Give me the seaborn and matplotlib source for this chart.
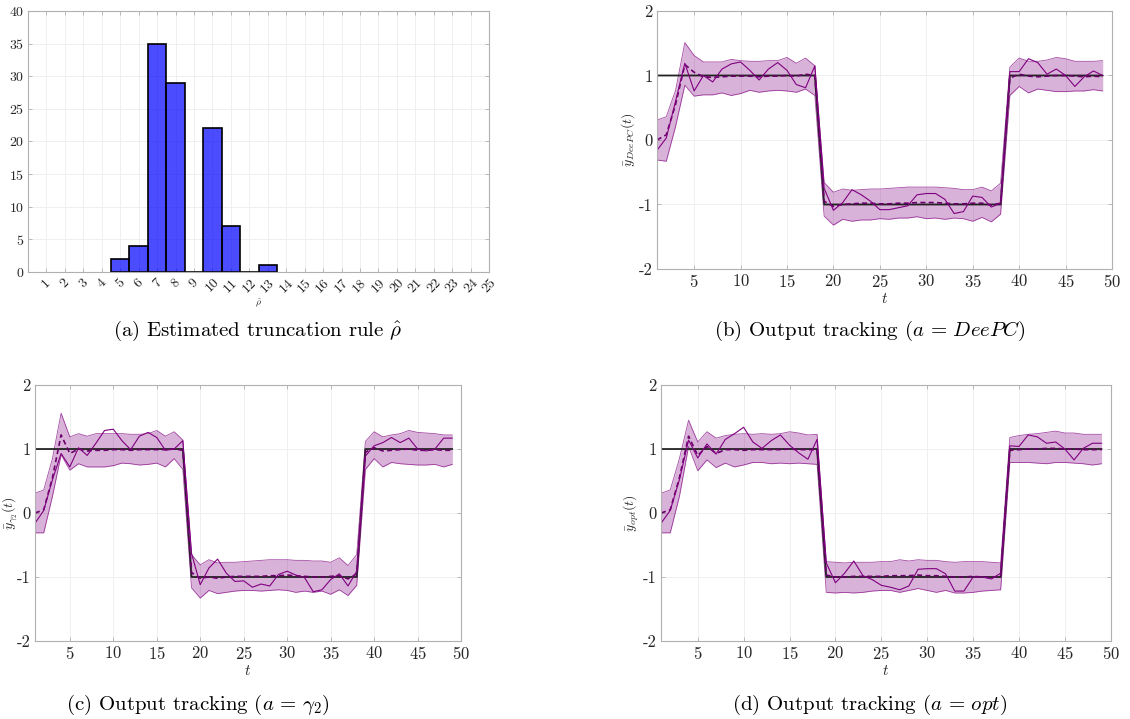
import numpy as np
import pandas as pd
import matplotlib
matplotlib.use("Agg")
import matplotlib.pyplot as plt
import seaborn as sns

# ---- data ----
rho_vals = [5, 6, 7, 8, 10, 11, 13]
rho_counts = [2, 4, 35, 29, 22, 7, 1]

t = list(range(1, 50))
y_ref = [1] * 18 + [-1] * 20 + [1] * 11

# (b) DeePC
deepc_run = [-0.16, 0.03, 0.6, 1.19, 0.76, 1.0, 0.9, 1.1, 1.18, 1.21, 1.08, 0.93, 1.1, 1.2, 1.08, 0.86, 0.81, 1.15,
             -0.75, -1.09, -0.97, -0.77, -0.85, -0.95, -1.08, -1.08, -1.05, -1.02, -0.85, -0.83, -0.83, -0.92, -1.14, -1.11, -0.87, -0.89, -1.04, -0.98,
             1.06, 1.06, 1.26, 1.2, 1.02, 1.1, 1.0, 0.83, 0.98, 1.07, 1.0]
deepc_mean = [0.0, 0.08, 0.55, 1.17, 1.05, 0.98, 0.97, 0.98, 0.99, 0.99, 0.99, 0.98, 0.99, 0.99, 1.0, 0.99, 1.02, 1.0,
              -0.95, -1.03, -1.0, -0.99, -0.98, -0.98, -0.99, -0.99, -0.98, -0.98, -0.97, -0.97, -0.97, -0.98, -0.99, -0.99, -0.98, -0.98, -1.01, -0.98,
              0.96, 1.02, 0.99, 0.98, 0.99, 1.0, 1.0, 0.99, 0.98, 0.99, 0.98]
deepc_up = [0.31, 0.36, 0.77, 1.51, 1.31, 1.21, 1.21, 1.21, 1.25, 1.23, 1.22, 1.22, 1.23, 1.23, 1.28, 1.19, 1.27, 1.15,
            -0.66, -0.81, -0.76, -0.78, -0.77, -0.76, -0.76, -0.75, -0.74, -0.73, -0.73, -0.73, -0.73, -0.74, -0.75, -0.77, -0.77, -0.73, -0.79, -0.67,
            1.13, 1.27, 1.22, 1.22, 1.24, 1.28, 1.26, 1.22, 1.22, 1.22, 1.23]
deepc_lo = [-0.31, -0.33, 0.21, 0.85, 0.68, 0.70, 0.70, 0.73, 0.69, 0.72, 0.77, 0.74, 0.76, 0.77, 0.76, 0.74, 0.79, 0.69,
            -1.18, -1.32, -1.23, -1.26, -1.24, -1.24, -1.22, -1.23, -1.21, -1.21, -1.19, -1.22, -1.21, -1.23, -1.21, -1.22, -1.26, -1.20, -1.27, -1.15,
            0.69, 0.83, 0.73, 0.79, 0.77, 0.75, 0.75, 0.76, 0.76, 0.78, 0.76]

# (c) gamma_2
g2_run = [-0.16, 0.04, 0.52, 0.93, 0.72, 1.02, 0.9, 1.09, 1.29, 1.31, 1.13, 0.99, 1.2, 1.26, 1.18, 0.98, 1.0, 1.13,
          -0.63, -1.12, -0.86, -0.72, -0.94, -1.07, -1.06, -1.16, -1.11, -1.14, -0.96, -0.91, -0.97, -1.01, -1.23, -1.2, -1.04, -0.95, -1.14, -0.91,
          0.89, 1.05, 1.1, 1.18, 1.1, 1.17, 1.0, 0.97, 1.0, 1.17, 1.17]
g2_mean = [0.0, 0.05, 0.55, 1.22, 0.93, 1.0, 0.97, 0.98, 0.98, 0.99, 0.99, 0.98, 0.99, 0.99, 0.99, 0.99, 1.0, 0.98,
           -0.93, -1.02, -1.0, -1.02, -1.0, -0.99, -0.99, -0.99, -0.99, -0.98, -0.98, -0.97, -0.98, -0.99, -1.0, -1.0, -0.99, -0.98, -1.03, -0.95,
           0.95, 1.02, 0.97, 0.98, 0.99, 1.0, 0.98, 0.98, 0.99, 0.98, 0.98]
g2_up = [0.31, 0.36, 0.85, 1.56, 1.19, 1.24, 1.2, 1.24, 1.24, 1.24, 1.24, 1.23, 1.23, 1.24, 1.29, 1.2, 1.27, 1.14,
         -0.65, -0.81, -0.73, -0.78, -0.77, -0.77, -0.76, -0.75, -0.74, -0.73, -0.73, -0.73, -0.74, -0.74, -0.75, -0.75, -0.77, -0.70, -0.82, -0.65,
         1.12, 1.27, 1.19, 1.22, 1.24, 1.29, 1.26, 1.25, 1.24, 1.22, 1.22]
g2_lo = [-0.31, -0.31, 0.26, 0.91, 0.67, 0.77, 0.72, 0.72, 0.72, 0.74, 0.78, 0.77, 0.75, 0.76, 0.78, 0.72, 0.85, 0.68,
         -1.17, -1.33, -1.21, -1.26, -1.24, -1.22, -1.21, -1.21, -1.22, -1.21, -1.2, -1.21, -1.24, -1.22, -1.24, -1.22, -1.27, -1.2, -1.29, -1.13,
         0.68, 0.85, 0.72, 0.79, 0.77, 0.76, 0.75, 0.75, 0.76, 0.72, 0.76]

# (d) opt
opt_run = [-0.16, 0.04, 0.52, 1.14, 0.86, 1.08, 0.92, 1.15, 1.24, 1.34, 1.11, 1.01, 1.13, 1.22, 1.06, 0.94, 0.84, 1.15,
           -0.78, -1.09, -0.94, -0.75, -0.98, -1.04, -1.13, -1.16, -1.2, -1.14, -0.88, -0.87, -0.87, -0.95, -1.22, -1.22, -1.0, -1.0, -1.03, -0.94,
           1.05, 1.04, 1.22, 1.19, 1.09, 1.11, 1.0, 0.83, 1.01, 1.09, 1.09]
opt_mean = [0.0, 0.05, 0.55, 1.2, 0.9, 1.04, 0.93, 0.99, 0.99, 0.98, 0.99, 0.99, 0.99, 0.99, 1.0, 0.99, 0.99, 0.99,
            -0.97, -1.0, -1.0, -0.99, -0.99, -0.99, -0.99, -0.98, -0.98, -0.98, -0.97, -0.98, -0.98, -0.99, -1.0, -1.0, -0.99, -1.0, -1.01, -0.98,
            0.98, 0.99, 1.0, 1.0, 1.01, 1.01, 1.0, 1.0, 0.99, 0.99, 0.99]
opt_up = [0.31, 0.36, 0.85, 1.45, 1.11, 1.27, 1.17, 1.21, 1.23, 1.24, 1.23, 1.24, 1.23, 1.24, 1.27, 1.25, 1.22, 1.23,
          -0.76, -0.77, -0.78, -0.77, -0.77, -0.77, -0.76, -0.76, -0.73, -0.75, -0.73, -0.74, -0.74, -0.76, -0.77, -0.76, -0.76, -0.76, -0.77, -0.78,
          1.18, 1.21, 1.23, 1.24, 1.26, 1.28, 1.25, 1.25, 1.23, 1.23, 1.23]
opt_lo = [-0.31, -0.31, 0.26, 1.04, 0.66, 0.83, 0.71, 0.78, 0.72, 0.75, 0.79, 0.79, 0.77, 0.78, 0.77, 0.78, 0.77, 0.76,
          -1.24, -1.25, -1.24, -1.25, -1.24, -1.22, -1.21, -1.21, -1.24, -1.21, -1.18, -1.21, -1.24, -1.21, -1.25, -1.25, -1.24, -1.22, -1.21, -1.2,
          0.79, 0.79, 0.79, 0.78, 0.77, 0.79, 0.79, 0.78, 0.77, 0.75, 0.77]

# ---- style ----
sns.set_theme(style="whitegrid")
plt.rcParams["font.family"] = ["cmr10", "DejaVu Serif"]
plt.rcParams["mathtext.fontset"] = "cm"
plt.rcParams["axes.unicode_minus"] = False
plt.rcParams["axes.formatter.use_mathtext"] = True

purple = "#800080"
spine_col = "#b0b0b0"
txt_col = "#262626"


def style_axes(ax, fs):
    for s in ax.spines.values():
        s.set_color(spine_col)
        s.set_linewidth(0.8)
    ax.grid(True, color="#efefef", linewidth=0.7)
    ax.tick_params(direction="in", length=3, width=0.6, color=spine_col,
                   labelsize=fs, labelcolor=txt_col, bottom=True, left=True, top=True, right=True,
                   labeltop=False, labelright=False, pad=3)
    ax.set_facecolor("white")


def tracking(ax, run, mean, up, lo, ylab, lab_x):
    ax.fill_between(t, lo, up, color=purple, alpha=0.3, linewidth=0)
    sns.lineplot(x=t, y=up, ax=ax, color=purple, lw=0.6, alpha=0.7)
    sns.lineplot(x=t, y=lo, ax=ax, color=purple, lw=0.6, alpha=0.7)
    sns.lineplot(x=t, y=y_ref, ax=ax, color="#222222", lw=1.3)
    sns.lineplot(x=t, y=mean, ax=ax, color="#6a006a", lw=1.2, linestyle=(0, (3, 2)))
    sns.lineplot(x=t, y=run, ax=ax, color=purple, lw=0.8)
    ax.set_xlim(1, 50)
    ax.set_ylim(-2, 2)
    ax.set_xticks(range(5, 51, 5))
    ax.set_yticks([-2, -1, 0, 1, 2])
    ax.set_yticklabels(["-2", "-1", "0", "1", "2"])
    ax.set_xlabel("$t$", fontsize=11, color=txt_col, labelpad=1)
    ax.set_ylabel(ylab, fontsize=10, color=txt_col)
    ax.yaxis.set_label_coords(lab_x, 0.5)
    style_axes(ax, 12)


fig = plt.figure(figsize=(11.3, 7.19), dpi=100)

ax_a = fig.add_axes([0.0248, 0.6217, 0.408, 0.363])
ax_b = fig.add_axes([0.5814, 0.6259, 0.4027, 0.3588])
ax_c = fig.add_axes([0.031, 0.1085, 0.377, 0.356])
ax_d = fig.add_axes([0.585, 0.1085, 0.398, 0.356])

# (a) histogram
sns.histplot(x=rho_vals, weights=rho_counts, discrete=True, ax=ax_a,
             color=(0, 0, 1), alpha=0.7, edgecolor="black", linewidth=1.2)
ax_a.set_xlim(0, 25)
ax_a.set_ylim(0, 40)
ax_a.set_xticks(range(1, 26))
ax_a.set_xticklabels([str(i) for i in range(1, 26)], rotation=45)
ax_a.set_yticks(range(0, 41, 5))
ax_a.set_ylabel("")
ax_a.set_xlabel(r"$\hat{\rho}$", fontsize=7, color=txt_col, labelpad=1)
style_axes(ax_a, 10)
ax_a.set_axisbelow(True)

tracking(ax_b, deepc_run, deepc_mean, deepc_up, deepc_lo, r"$\bar{y}_{DeePC}(t)$", -0.045)
tracking(ax_c, g2_run, g2_mean, g2_up, g2_lo, r"$\bar{y}_{\gamma_2}(t)$", -0.036)
tracking(ax_d, opt_run, opt_mean, opt_up, opt_lo, r"$\bar{y}_{opt}(t)$", -0.045)

cap = dict(fontsize=15, ha="center", va="center", color="black")
fig.text(258 / 1130, 1 - 331 / 719, r"(a) Estimated truncation rule $\hat{\rho}$", **cap)
fig.text(870 / 1130, 1 - 331 / 719, r"(b) Output tracking ($a \,=\, DeePC$)", **cap)
fig.text(198 / 1130, 1 - 705 / 719, r"(c) Output tracking ($a \,=\, \gamma_2$)", **cap)
fig.text(870 / 1130, 1 - 705 / 719, r"(d) Output tracking ($a \,=\, opt$)", **cap)

fig.savefig("out.png", dpi=100)
